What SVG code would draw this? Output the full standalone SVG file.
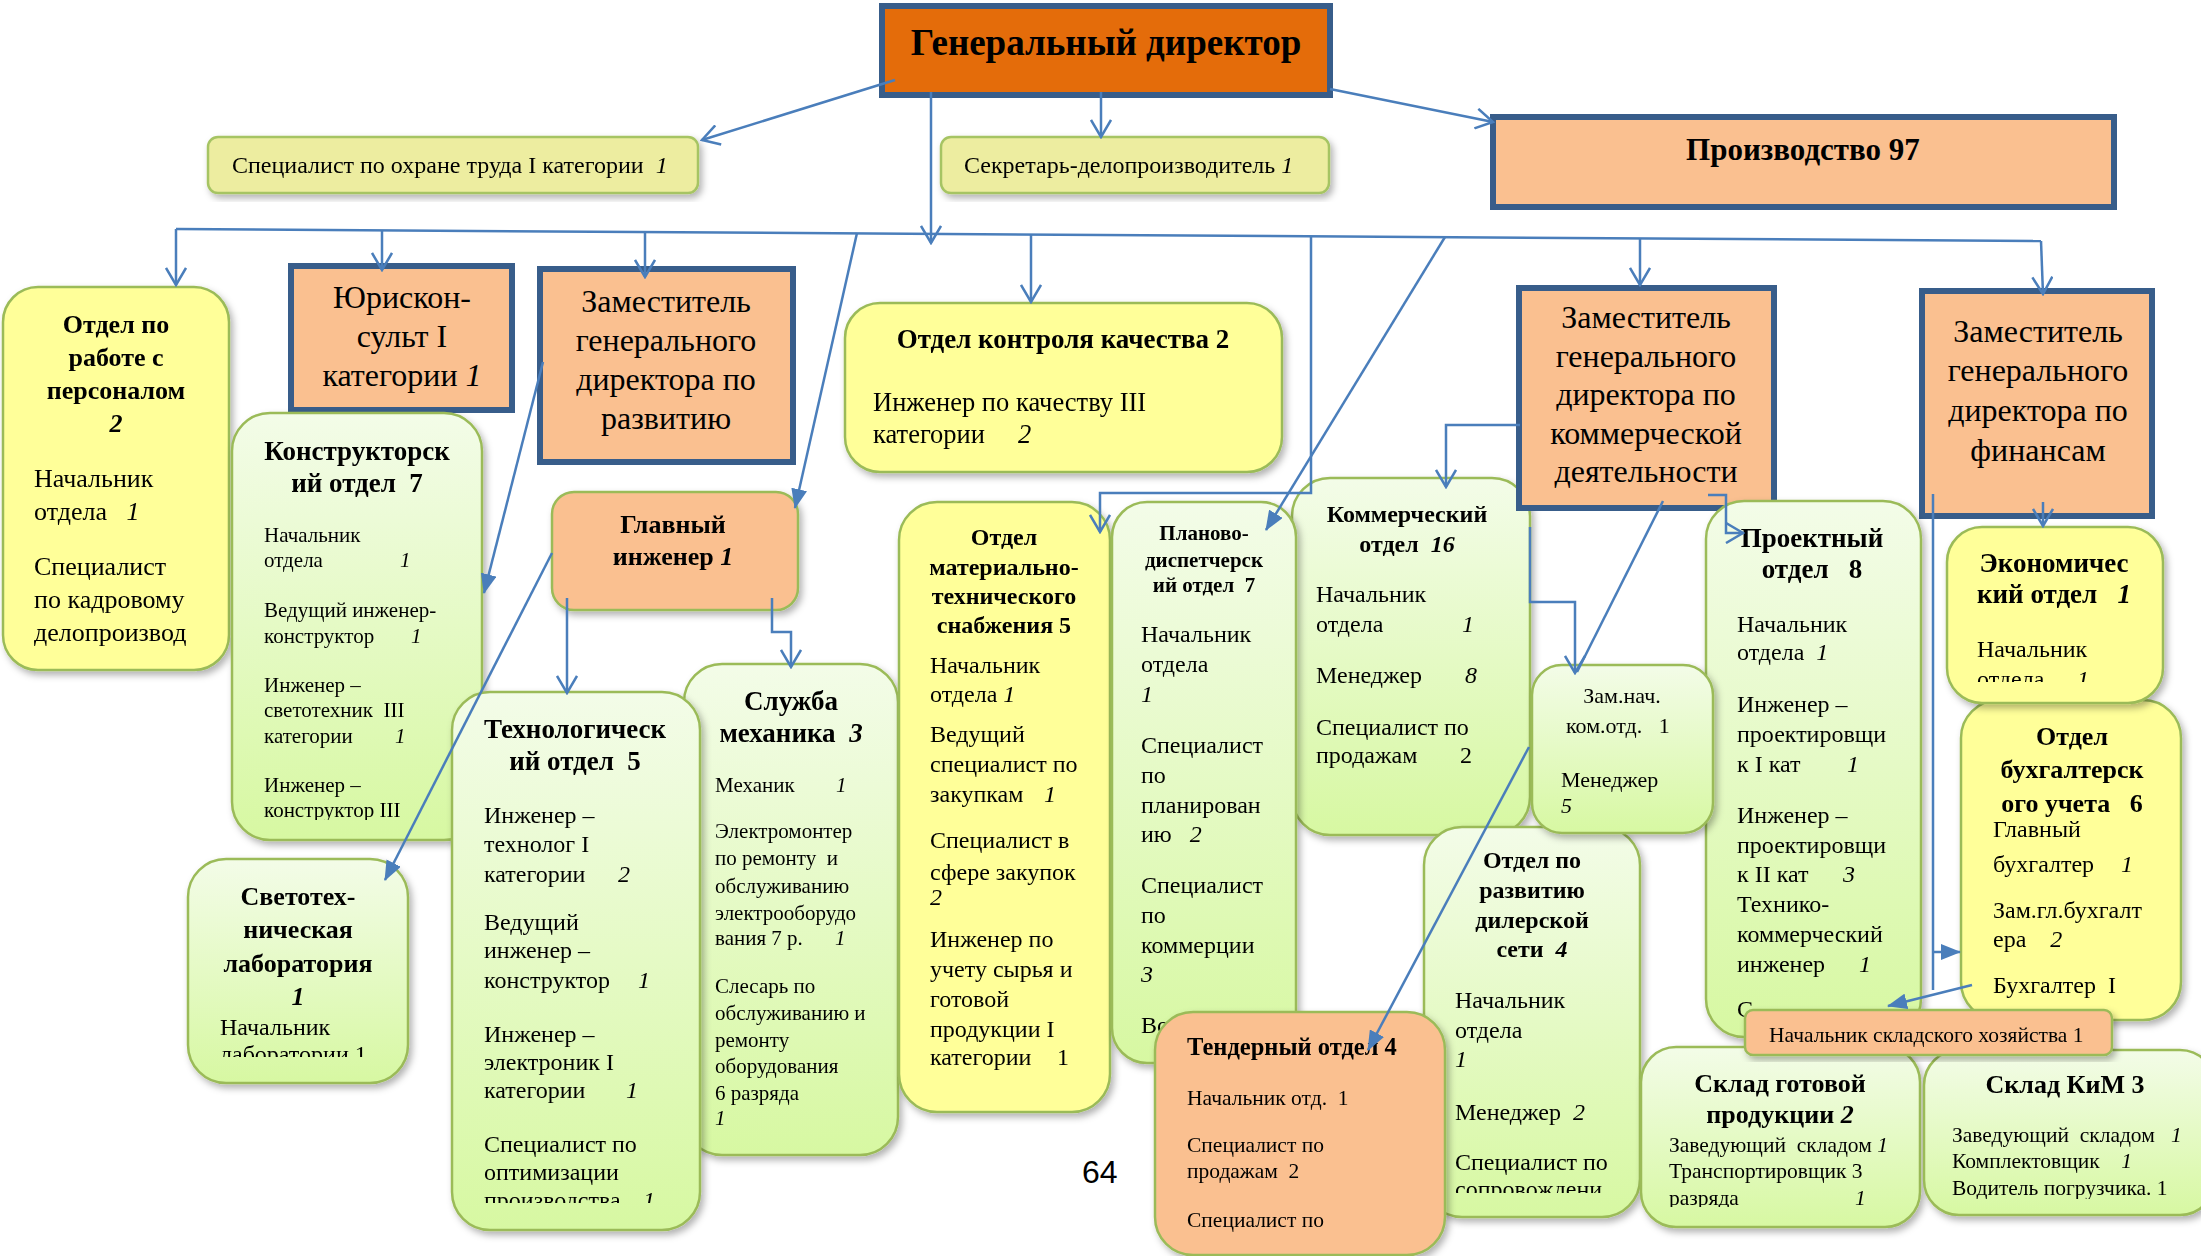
<svg xmlns="http://www.w3.org/2000/svg" width="2201" height="1256" viewBox="0 0 2201 1256">
<defs>
  <style>
    text { font-family: "Liberation Serif", "Times New Roman", serif; fill: #000; white-space: pre; }
    .b { font-weight: bold; }
    .i { font-style: italic; }
    .c { text-anchor: middle; }
    .boss { fill: #E46C0A; stroke: #385D8A; stroke-width: 6; }
    .head { fill: #FAC090; stroke: #385D8A; stroke-width: 6; }
    .pale { fill: #EDEDA0; stroke: #A6C464; stroke-width: 2.5; }
    .yel { fill: #FFFF99; stroke: #9BBB59; stroke-width: 2.5; }
    .grn { fill: url(#gg); stroke: #9BBB59; stroke-width: 2.5; }
    .org { fill: #FAC090; stroke: #9BBB59; stroke-width: 2.5; }
    .ln { fill: none; stroke: #4A7EBB; stroke-width: 2.5; }
  </style>
  <linearGradient id="gg" x1="0" y1="0" x2="0" y2="1">
    <stop offset="0" stop-color="#F3FCE8"/>
    <stop offset="1" stop-color="#D7F8A2"/>
  </linearGradient>
  <filter id="sh" x="-10%" y="-10%" width="125%" height="125%">
    <feDropShadow dx="3" dy="4" stdDeviation="3.5" flood-color="#000" flood-opacity="0.3"/>
  </filter>
  <marker id="v" viewBox="0 0 20 22" refX="18" refY="11" markerWidth="20" markerHeight="22" markerUnits="userSpaceOnUse" orient="auto">
    <path d="M1,1 L18,11 L1,21" fill="none" stroke="#4A7EBB" stroke-width="2.5"/>
  </marker>
  <marker id="f" viewBox="0 0 20 16" refX="19" refY="8" markerWidth="20" markerHeight="16" markerUnits="userSpaceOnUse" orient="auto">
    <path d="M0,0 L20,8 L0,16 z" fill="#4A7EBB"/>
  </marker>
  <clipPath id="cKon"><rect x="232" y="413" width="250" height="407"/></clipPath>
  <clipPath id="cTech"><rect x="452" y="692" width="248" height="511"/></clipPath>
  <clipPath id="cSvet"><rect x="188" y="859" width="220" height="198"/></clipPath>
  <clipPath id="cEcon"><rect x="1947" y="527" width="216" height="155"/></clipPath>
  <clipPath id="cRazv"><rect x="1424" y="827" width="216" height="366"/></clipPath>
  <clipPath id="cSgp"><rect x="1641" y="1047" width="279" height="160"/></clipPath>
  <clipPath id="cKim"><rect x="1924" y="1050" width="291" height="149"/></clipPath>
</defs>

<rect width="2201" height="1256" fill="#FFFFFF"/>

<!-- top level -->
<g id="gen-director">
  <rect class="boss" x="882" y="6" width="448" height="89"/>
  <text class="b c" x="1106" y="55" font-size="37">Генеральный директор</text>
</g>
<g id="labour-safety" filter="url(#sh)">
  <rect class="pale" x="208" y="137" width="490" height="56" rx="10"/>
  <text x="232" y="173" font-size="24">Специалист по охране труда I категории  <tspan class="i">1</tspan></text>
</g>
<g id="secretary" filter="url(#sh)">
  <rect class="pale" x="941" y="137" width="388" height="56" rx="10"/>
  <text x="964" y="173" font-size="24">Секретарь-делопроизводитель <tspan class="i">1</tspan></text>
</g>
<g id="production">
  <rect class="head" x="1493" y="117" width="621" height="90"/>
  <text class="b c" x="1803" y="160" font-size="31">Производство 97</text>
</g>

<!-- second level heads -->
<g id="hr-dept" filter="url(#sh)">
  <rect class="yel" x="3" y="287" width="226" height="383" rx="35"/>
  <text class="b c" font-size="26"><tspan x="116" y="333">Отдел по</tspan><tspan x="116" y="366">работе с</tspan><tspan x="116" y="399">персоналом</tspan><tspan x="116" y="432" class="i">2</tspan></text>
  <text font-size="26"><tspan x="34" y="487">Начальник</tspan><tspan x="34" y="520">отдела   </tspan><tspan class="i">1</tspan><tspan x="34" y="575">Специалист</tspan><tspan x="34" y="608">по кадровому</tspan><tspan x="34" y="641">делопроизвод</tspan></text>
</g>
<g id="legal">
  <rect class="head" x="291" y="266" width="221" height="144"/>
  <text class="c" font-size="32"><tspan x="402" y="308">Юрискон-</tspan><tspan x="402" y="347">сульт I</tspan><tspan x="402" y="386">категории <tspan class="i">1</tspan></tspan></text>
</g>
<g id="deputy-development">
  <rect class="head" x="540" y="269" width="253" height="193"/>
  <text class="c" font-size="32"><tspan x="666" y="312">Заместитель</tspan><tspan x="666" y="351">генерального</tspan><tspan x="666" y="390">директора по</tspan><tspan x="666" y="429">развитию</tspan></text>
</g>
<g id="quality-dept" filter="url(#sh)">
  <rect class="yel" x="845" y="303" width="437" height="169" rx="35"/>
  <text class="b c" x="1063" y="348" font-size="27">Отдел контроля качества 2</text>
  <text font-size="26.5"><tspan x="873" y="411">Инженер по качеству III</tspan><tspan x="873" y="443">категории</tspan><tspan x="1018" y="443" class="i">2</tspan></text>
</g>
<g id="deputy-finance">
  <rect class="head" x="1922" y="291" width="230" height="225"/>
  <text class="c" font-size="32"><tspan x="2038" y="342">Заместитель</tspan><tspan x="2038" y="381">генерального</tspan><tspan x="2038" y="421">директора по</tspan><tspan x="2038" y="461">финансам</tspan></text>
</g>

<!-- departments -->
<g id="design-dept" filter="url(#sh)">
  <rect class="grn" x="232" y="413" width="250" height="427" rx="38"/>
  <text class="b c" font-size="27"><tspan x="357" y="460">Конструкторск</tspan><tspan x="357" y="492">ий отдел  7</tspan></text>
  <text font-size="21" clip-path="url(#cKon)"><tspan x="264" y="542">Начальник</tspan><tspan x="264" y="567">отдела</tspan><tspan x="400" y="567" class="i">1</tspan><tspan x="264" y="617">Ведущий инженер-</tspan><tspan x="264" y="643">конструктор</tspan><tspan x="411" y="643" class="i">1</tspan><tspan x="264" y="692">Инженер –</tspan><tspan x="264" y="717">светотехник  III</tspan><tspan x="264" y="743">категории</tspan><tspan x="395" y="743" class="i">1</tspan><tspan x="264" y="792">Инженер –</tspan><tspan x="264" y="817">конструктор III</tspan></text>
</g>
<g id="mechanics" filter="url(#sh)">
  <rect class="grn" x="684" y="664" width="214" height="491" rx="38"/>
  <text class="b c" font-size="27"><tspan x="791" y="710">Служба</tspan><tspan x="791" y="742">механика  <tspan class="i">3</tspan></tspan></text>
  <text font-size="21"><tspan x="715" y="792">Механик</tspan><tspan x="836" y="792" class="i">1</tspan><tspan x="715" y="838">Электромонтер</tspan><tspan x="715" y="865">по ремонту  и</tspan><tspan x="715" y="893">обслуживанию</tspan><tspan x="715" y="920">электрооборудо</tspan><tspan x="715" y="945">вания 7 р.</tspan><tspan x="835" y="945" class="i">1</tspan><tspan x="715" y="993">Слесарь по</tspan><tspan x="715" y="1020">обслуживанию и</tspan><tspan x="715" y="1047">ремонту</tspan><tspan x="715" y="1073">оборудования</tspan><tspan x="715" y="1100">6 разряда</tspan><tspan x="715" y="1125" class="i">1</tspan></text>
</g>
<g id="technology-dept" filter="url(#sh)">
  <rect class="grn" x="452" y="692" width="248" height="538" rx="38"/>
  <text class="b c" font-size="27"><tspan x="575" y="738">Технологическ</tspan><tspan x="575" y="770">ий отдел  5</tspan></text>
  <text font-size="24" clip-path="url(#cTech)"><tspan x="484" y="823">Инженер –</tspan><tspan x="484" y="852">технолог I</tspan><tspan x="484" y="882">категории</tspan><tspan x="618" y="882" class="i">2</tspan><tspan x="484" y="930">Ведущий</tspan><tspan x="484" y="958">инженер –</tspan><tspan x="484" y="988">конструктор</tspan><tspan x="638" y="988" class="i">1</tspan><tspan x="484" y="1042">Инженер –</tspan><tspan x="484" y="1070">электроник I</tspan><tspan x="484" y="1098">категории</tspan><tspan x="626" y="1098" class="i">1</tspan><tspan x="484" y="1152">Специалист по</tspan><tspan x="484" y="1180">оптимизации</tspan><tspan x="484" y="1208">производства</tspan><tspan x="643" y="1208" class="i">1</tspan></text>
</g>
<g id="lighting-lab" filter="url(#sh)">
  <rect class="grn" x="188" y="859" width="220" height="224" rx="38"/>
  <text class="b c" font-size="26"><tspan x="298" y="905">Светотех-</tspan><tspan x="298" y="938">ническая</tspan><tspan x="298" y="972">лаборатория</tspan><tspan x="298" y="1005" class="i">1</tspan></text>
  <text font-size="24" clip-path="url(#cSvet)"><tspan x="220" y="1035">Начальник</tspan><tspan x="220" y="1062">лаборатории 1</tspan></text>
</g>
<g id="chief-engineer" filter="url(#sh)">
  <rect class="org" x="552" y="492" width="246" height="118" rx="22"/>
  <text class="b c" font-size="26"><tspan x="673" y="533">Главный</tspan><tspan x="673" y="565">инженер <tspan class="i">1</tspan></tspan></text>
</g>
<g id="supply-dept" filter="url(#sh)">
  <rect class="yel" x="899" y="502" width="211" height="610" rx="38"/>
  <text class="b c" font-size="24"><tspan x="1004" y="545">Отдел</tspan><tspan x="1004" y="575">материально-</tspan><tspan x="1004" y="604">технического</tspan><tspan x="1004" y="633">снабжения 5</tspan></text>
  <text font-size="24"><tspan x="930" y="673">Начальник</tspan><tspan x="930" y="702">отдела <tspan class="i">1</tspan></tspan><tspan x="930" y="742">Ведущий</tspan><tspan x="930" y="772">специалист по</tspan><tspan x="930" y="802">закупкам</tspan><tspan x="1044" y="802" class="i">1</tspan><tspan x="930" y="848">Специалист в</tspan><tspan x="930" y="880">сфере закупок</tspan><tspan x="930" y="905" class="i">2</tspan><tspan x="930" y="947">Инженер по</tspan><tspan x="930" y="977">учету сырья и</tspan><tspan x="930" y="1007">готовой</tspan><tspan x="930" y="1037">продукции I</tspan><tspan x="930" y="1065">категории</tspan><tspan x="1057" y="1065">1</tspan></text>
</g>
<g id="commercial-dept" filter="url(#sh)">
  <rect class="grn" x="1292" y="478" width="238" height="357" rx="38"/>
  <text class="b c" font-size="24"><tspan x="1407" y="522">Коммерческий</tspan><tspan x="1407" y="552">отдел  <tspan class="i">16</tspan></tspan></text>
  <text font-size="24"><tspan x="1316" y="602">Начальник</tspan><tspan x="1316" y="632">отдела</tspan><tspan x="1462" y="632" class="i">1</tspan><tspan x="1316" y="683">Менеджер</tspan><tspan x="1465" y="683" class="i">8</tspan><tspan x="1316" y="735">Специалист по</tspan><tspan x="1316" y="763">продажам</tspan><tspan x="1460" y="763">2</tspan></text>
</g>
<g id="deputy-commerce">
  <rect class="head" x="1519" y="288" width="255" height="220"/>
  <text class="c" font-size="32"><tspan x="1646" y="328">Заместитель</tspan><tspan x="1646" y="367">генерального</tspan><tspan x="1646" y="405">директора по</tspan><tspan x="1646" y="444">коммерческой</tspan><tspan x="1646" y="482">деятельности</tspan></text>
</g>
<g id="planning-dept" filter="url(#sh)">
  <rect class="grn" x="1112" y="502" width="184" height="561" rx="35"/>
  <text class="b c" font-size="21"><tspan x="1204" y="540">Планово-</tspan><tspan x="1204" y="567">диспетчерск</tspan><tspan x="1204" y="592">ий отдел  7</tspan></text>
  <text font-size="24"><tspan x="1141" y="642">Начальник</tspan><tspan x="1141" y="672">отдела</tspan><tspan x="1141" y="702" class="i">1</tspan><tspan x="1141" y="753">Специалист</tspan><tspan x="1141" y="783">по</tspan><tspan x="1141" y="813">планирован</tspan><tspan x="1141" y="842">ию   <tspan class="i">2</tspan></tspan><tspan x="1141" y="893">Специалист</tspan><tspan x="1141" y="923">по</tspan><tspan x="1141" y="953">коммерции</tspan><tspan x="1141" y="982" class="i">3</tspan><tspan x="1141" y="1033">Во</tspan></text>
</g>
<g id="project-dept" filter="url(#sh)">
  <rect class="grn" x="1706" y="501" width="215" height="536" rx="38"/>
  <text class="b c" font-size="27"><tspan x="1812" y="547">Проектный</tspan><tspan x="1812" y="578">отдел   8</tspan></text>
  <text font-size="24"><tspan x="1737" y="632">Начальник</tspan><tspan x="1737" y="660">отдела  <tspan class="i">1</tspan></tspan><tspan x="1737" y="712">Инженер –</tspan><tspan x="1737" y="742">проектировщи</tspan><tspan x="1737" y="772">к I кат</tspan><tspan x="1847" y="772" class="i">1</tspan><tspan x="1737" y="823">Инженер –</tspan><tspan x="1737" y="853">проектировщи</tspan><tspan x="1737" y="882">к II кат</tspan><tspan x="1843" y="882" class="i">3</tspan><tspan x="1737" y="912">Технико-</tspan><tspan x="1737" y="942">коммерческий</tspan><tspan x="1737" y="972">инженер</tspan><tspan x="1859" y="972" class="i">1</tspan><tspan x="1737" y="1017">С</tspan></text>
</g>
<g id="dealer-dept" filter="url(#sh)">
  <rect class="grn" x="1424" y="827" width="216" height="390" rx="38"/>
  <text class="b c" font-size="24"><tspan x="1532" y="868">Отдел по</tspan><tspan x="1532" y="898">развитию</tspan><tspan x="1532" y="928">дилерской</tspan><tspan x="1532" y="957">сети  <tspan class="i">4</tspan></tspan></text>
  <text font-size="24" clip-path="url(#cRazv)"><tspan x="1455" y="1008">Начальник</tspan><tspan x="1455" y="1038">отдела</tspan><tspan x="1455" y="1067" class="i">1</tspan><tspan x="1455" y="1120">Менеджер  <tspan class="i">2</tspan></tspan><tspan x="1455" y="1170">Специалист по</tspan><tspan x="1455" y="1197">сопровождени</tspan></text>
</g>
<g id="deputy-head-commercial" filter="url(#sh)">
  <rect class="grn" x="1532" y="665" width="181" height="168" rx="30"/>
  <text font-size="22"><tspan x="1622" y="703" class="c">Зам.нач.</tspan><tspan x="1566" y="733">ком.отд.   1</tspan><tspan x="1561" y="787">Менеджер</tspan><tspan x="1561" y="813" class="i">5</tspan></text>
</g>
<g id="accounting" filter="url(#sh)">
  <rect class="yel" x="1961" y="700" width="220" height="320" rx="38"/>
  <text class="b c" font-size="26"><tspan x="2072" y="745">Отдел</tspan><tspan x="2072" y="778">бухгалтерск</tspan><tspan x="2072" y="812">ого учета   6</tspan></text>
  <text font-size="24"><tspan x="1993" y="837">Главный</tspan><tspan x="1993" y="872">бухгалтер</tspan><tspan x="2121" y="872" class="i">1</tspan><tspan x="1993" y="918">Зам.гл.бухгалт</tspan><tspan x="1993" y="947">ера    <tspan class="i">2</tspan></tspan><tspan x="1993" y="993">Бухгалтер  I</tspan></text>
</g>
<g id="economics" filter="url(#sh)">
  <rect class="yel" x="1947" y="527" width="216" height="176" rx="35"/>
  <text class="b c" font-size="27"><tspan x="2054" y="572">Экономичес</tspan><tspan x="2054" y="603">кий отдел   <tspan class="i">1</tspan></tspan></text>
  <text font-size="24" clip-path="url(#cEcon)"><tspan x="1977" y="657">Начальник</tspan><tspan x="1977" y="687">отдела</tspan><tspan x="2077" y="687" class="i">1</tspan></text>
</g>
<g id="finished-goods-store" filter="url(#sh)">
  <rect class="grn" x="1641" y="1047" width="279" height="180" rx="35"/>
  <text class="b c" font-size="26"><tspan x="1780" y="1092">Склад готовой</tspan><tspan x="1780" y="1123">продукции <tspan class="i">2</tspan></tspan></text>
  <text font-size="21.5" clip-path="url(#cSgp)"><tspan x="1669" y="1152">Заведующий  складом <tspan class="i">1</tspan></tspan><tspan x="1669" y="1178">Транспортировщик 3</tspan><tspan x="1669" y="1205">разряда</tspan><tspan x="1855" y="1205" class="i">1</tspan></text>
</g>
<g id="components-store" filter="url(#sh)">
  <rect class="grn" x="1924" y="1050" width="291" height="165" rx="35"/>
  <text class="b c" x="2065" y="1093" font-size="26">Склад КиМ 3</text>
  <text font-size="21.5" clip-path="url(#cKim)"><tspan x="1952" y="1142">Заведующий  складом   <tspan class="i">1</tspan></tspan><tspan x="1952" y="1168">Комплектовщик    <tspan class="i">1</tspan></tspan><tspan x="1952" y="1195">Водитель погрузчика. 1</tspan></text>
</g>
<g id="storage-head" filter="url(#sh)">
  <rect class="org" x="1745" y="1010" width="367" height="45" rx="8"/>
  <text x="1769" y="1042" font-size="21.5">Начальник складского хозяйства 1</text>
</g>
<g id="tender-dept" filter="url(#sh)">
  <rect class="org" x="1155" y="1012" width="290" height="243" rx="38"/>
  <text class="b" x="1187" y="1055" font-size="24.5">Тендерный отдел 4</text>
  <text font-size="21.5"><tspan x="1187" y="1105">Начальник отд.  1</tspan><tspan x="1187" y="1152">Специалист по</tspan><tspan x="1187" y="1178">продажам  2</tspan><tspan x="1187" y="1227">Специалист по</tspan></text>
</g>

<text x="1082" y="1183" font-size="32" style="font-family:'Liberation Sans', Arial, sans-serif">64</text>

<!-- connectors -->
<g id="connectors">
  <path class="ln" d="M895,80 L702,140" marker-end="url(#v)"/>
  <path class="ln" d="M1101,92 L1101,137" marker-end="url(#v)"/>
  <path class="ln" d="M1330,89 L1493,122" marker-end="url(#v)"/>
  <path class="ln" d="M931,92 L931,243" marker-end="url(#v)"/>
  <path class="ln" d="M176,229 L2041,241"/>
  <path class="ln" d="M176,229 L176,285" marker-end="url(#v)"/>
  <path class="ln" d="M382,230 L382,270" marker-end="url(#v)"/>
  <path class="ln" d="M645,232 L645,277" marker-end="url(#v)"/>
  <path class="ln" d="M1031,235 L1031,302" marker-end="url(#v)"/>
  <path class="ln" d="M1640,238 L1640,285" marker-end="url(#v)"/>
  <path class="ln" d="M2041,241 L2043,294" marker-end="url(#v)"/>
  <path class="ln" d="M1311,236 L1311,493 L1100,493 L1100,532" marker-end="url(#v)"/>
  <path class="ln" d="M1445,237 L1266,530" marker-end="url(#f)"/>
  <path class="ln" d="M857,233 L795,508" marker-end="url(#f)"/>
  <path class="ln" d="M543,362 L484,593" marker-end="url(#f)"/>
  <path class="ln" d="M552,553 L385,880" marker-end="url(#f)"/>
  <path class="ln" d="M567,598 L567,693" marker-end="url(#v)"/>
  <path class="ln" d="M772,598 L772,632 L791,632 L791,667" marker-end="url(#v)"/>
  <path class="ln" d="M1520,425 L1446,425 L1446,487" marker-end="url(#v)"/>
  <path class="ln" d="M1530,527 L1530,602 L1575,602 L1575,673" marker-end="url(#v)"/>
  <path class="ln" d="M1663,501 L1577,672"/>
  <path class="ln" d="M1529,747 L1368,1050" marker-end="url(#f)"/>
  <path class="ln" d="M1708,495 L1726,495 L1726,533 L1743,533" marker-end="url(#v)"/>
  <path class="ln" d="M2043,502 L2043,526" marker-end="url(#v)"/>
  <path class="ln" d="M1933,494 L1933,990"/>
  <path class="ln" d="M1933,952 L1960,952" marker-end="url(#f)"/>
  <path class="ln" d="M1972,985 L1888,1006" marker-end="url(#f)"/>
</g>
</svg>
